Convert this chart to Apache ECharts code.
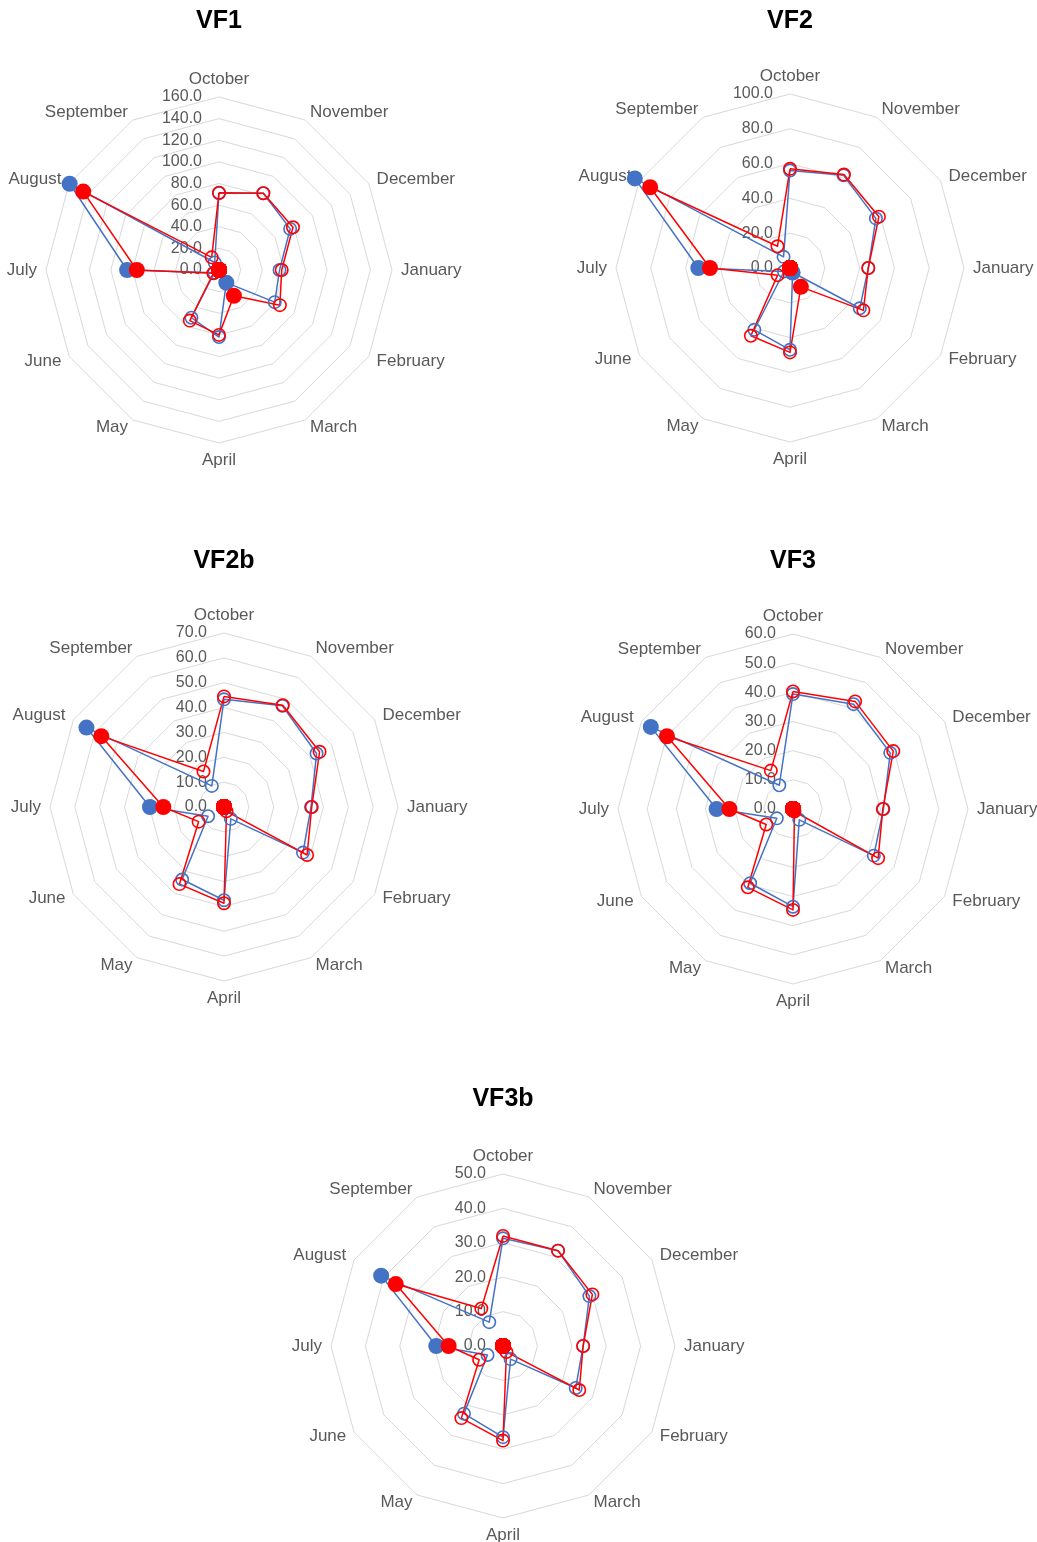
<!DOCTYPE html>
<html>
<head>
<meta charset="utf-8">
<script src="https://cdn.jsdelivr.net/npm/echarts@6/dist/echarts.min.js"></script>
<style>
  html, body { margin: 0; padding: 0; background: #ffffff; }
  #chart { width: 1037px; height: 1542px; }
</style>
</head>
<body>
<div id="chart"></div>
<script>
// Months of the water year, clockwise from the top spoke
const months = ['October', 'November', 'December', 'January', 'February', 'March',
                'April', 'May', 'June', 'July', 'August', 'September'];

// VF1
const vf1Blue = [71, 82, 76, 56, 59.5, 13.5, 62, 51, 5, 85, 159.5, 8];
const vf1Red  = [71.5, 82, 79, 58, 65, 27.5, 60, 54, 6, 76, 145, 13.5];
const vf1Highlight = ['March', 'July', 'August'];

// VF2
const vf2Blue = [56, 61.5, 57, 45, 46.3, 3, 47, 41, 4, 52.7, 103, 7.4];
const vf2Red  = [57, 62, 59, 45, 48.7, 12.5, 48.5, 45, 8.2, 46, 92.8, 14.4];
const vf2Highlight = ['March', 'July', 'August'];

// VF2b
const vf2bBlue = [43.3, 47, 43, 35, 36.7, 5.5, 37.5, 33.7, 7.4, 29.8, 63.9, 9.8];
const vf2bRed  = [44.5, 47.3, 44.4, 35.3, 38.6, 2, 38.7, 35.8, 11.8, 24.4, 57, 16.5];
const vf2bHighlight = ['July', 'August'];

// VF3
const vf3Blue = [39.4, 41.5, 38.5, 31, 32, 4.3, 33.5, 29.4, 6.4, 26.2, 56.3, 9.4];
const vf3Red  = [40.3, 42.6, 39.7, 30.8, 33.7, 1, 34.6, 31, 10.6, 21.8, 49.9, 15.2];
const vf3Highlight = ['July', 'August'];

// VF3b
const vf3bBlue = [31.3, 32, 29, 23.3, 24.4, 4.4, 26.5, 22.7, 5.2, 19.4, 40.9, 8];
const vf3bRed  = [32, 32, 30, 23.3, 25.6, 2, 27.5, 24.2, 8, 15.8, 36, 12.6];
const vf3bHighlight = ['July', 'August'];

// Axis ranges (max and tick step) per panel
const axisMax  = [160, 100, 70, 60, 50];
const axisStep = [20, 20, 10, 10, 10];
const titles   = ['VF1', 'VF2', 'VF2b', 'VF3', 'VF3b'];

const panels = [
  { blue: vf1Blue,  red: vf1Red,  hl: vf1Highlight },
  { blue: vf2Blue,  red: vf2Red,  hl: vf2Highlight },
  { blue: vf2bBlue, red: vf2bRed, hl: vf2bHighlight },
  { blue: vf3Blue,  red: vf3Red,  hl: vf3Highlight },
  { blue: vf3bBlue, red: vf3bRed, hl: vf3bHighlight }
];

// Page layout of the five radar panels
const layout = [
  { cx: 219, cy: 270,  r: 173, titleTop: 9 },
  { cx: 790, cy: 268,  r: 174, titleTop: 9 },
  { cx: 224, cy: 807,  r: 174, titleTop: 549 },
  { cx: 793, cy: 809,  r: 175, titleTop: 549 },
  { cx: 503, cy: 1346, r: 172, titleTop: 1087 }
];

const BLUE = '#4472C4';
const RED = '#FF0000';
const FONT = '"Liberation Sans", Arial, sans-serif';
const GRID = '#D9D9D9';
const TEXT = '#595959';

// Hollow ring marker (transparent centre)
const RING = 'path://M10,0A10,10,0,1,1,-10,0A10,10,0,1,1,10,0ZM7.7,0A7.7,7.7,0,1,0,-7.7,0A7.7,7.7,0,1,0,7.7,0Z';

// ECharts radar runs counter-clockwise; list indicators so months read clockwise
const order = [0];
for (let k = months.length - 1; k >= 1; k--) order.push(k);
const reorder = arr => order.map(k => arr[k]);

// Filled-marker series: highlighted months keep their value, others sit at the pole
const highlightValues = (vals, hl) => vals.map((v, k) => (hl.indexOf(months[k]) >= 0 ? v : 0));

const title = [];
const radar = [];
const series = [];

panels.forEach((p, i) => {
  const L = layout[i];
  title.push({
    text: titles[i],
    left: L.cx,
    top: L.titleTop,
    textAlign: 'center',
    padding: 0,
    textStyle: { fontFamily: FONT, fontSize: 25, fontWeight: 'bold', color: '#000000' }
  });

  radar.push({
    center: [L.cx, L.cy],
    radius: L.r,
    startAngle: 90,
    shape: 'polygon',
    splitNumber: axisMax[i] / axisStep[i],
    indicator: order.map((k, j) => {
      const ind = { name: months[k], min: 0, max: axisMax[i] };
      if (j === 0) {
        ind.axisLabel = {
          show: true,
          margin: 17,
          color: TEXT,
          fontSize: 16,
          fontFamily: FONT,
          formatter: v => Number(v).toFixed(1)
        };
      }
      return ind;
    }),
    axisName: { color: TEXT, fontSize: 17, fontFamily: FONT },
    axisNameGap: 9,
    splitLine: { lineStyle: { color: GRID, width: 1 } },
    splitArea: { show: false },
    axisLine: { show: false },
    axisTick: { show: false },
    axisLabel: { show: false }
  });

  series.push({
    type: 'radar', radarIndex: i, name: titles[i] + ' blue',
    symbol: RING, symbolSize: 14,
    lineStyle: { color: BLUE, width: 1.5 },
    itemStyle: { color: BLUE },
    data: [{ value: reorder(p.blue) }]
  });
  series.push({
    type: 'radar', radarIndex: i, name: titles[i] + ' red',
    symbol: RING, symbolSize: 14,
    lineStyle: { color: RED, width: 1.5 },
    itemStyle: { color: RED },
    data: [{ value: reorder(p.red) }]
  });
  series.push({
    type: 'radar', radarIndex: i, name: titles[i] + ' blue highlight',
    symbol: 'circle', symbolSize: 16,
    lineStyle: { width: 0, opacity: 0 },
    itemStyle: { color: BLUE },
    data: [{ value: reorder(highlightValues(p.blue, p.hl)) }]
  });
  series.push({
    type: 'radar', radarIndex: i, name: titles[i] + ' red highlight',
    symbol: 'circle', symbolSize: 16,
    lineStyle: { width: 0, opacity: 0 },
    itemStyle: { color: RED },
    data: [{ value: reorder(highlightValues(p.red, p.hl)) }]
  });
});

const chart = echarts.init(document.getElementById('chart'), null, { renderer: 'canvas' });
chart.setOption({
  animation: false,
  backgroundColor: '#ffffff',
  title: title,
  radar: radar,
  series: series
});
</script>
</body>
</html>
